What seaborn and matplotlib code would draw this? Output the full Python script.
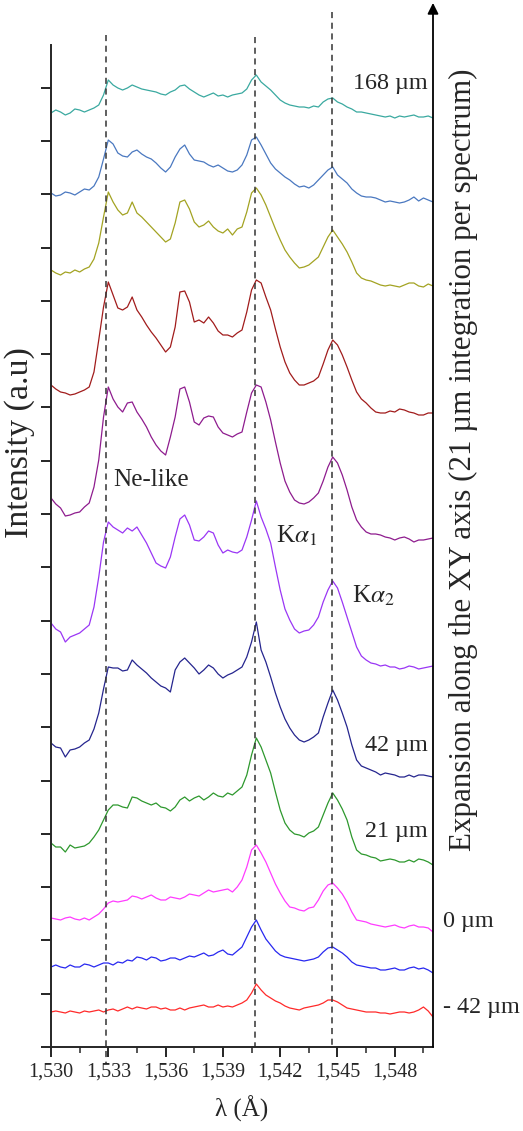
import numpy as np
import pandas as pd
import matplotlib
matplotlib.use("Agg")
import matplotlib.pyplot as plt
import seaborn as sns

# ---------------- data ----------------
wavelength = np.linspace(1.530, 1.550, 81)   # Å, sampling grid

s_168 = [934, 937, 935, 932, 934, 938, 937, 935, 937, 939, 942, 952, 967, 962, 959, 957, 959, 962, 960, 958,
         957, 956, 955, 953, 952, 955, 957, 961, 962, 958, 955, 952, 950, 952, 954, 951, 952, 950, 952, 953,
         954, 958, 967, 972, 965, 961, 957, 952, 947, 944, 942, 941, 940, 940, 939, 941, 940, 945, 948, 949,
         945, 943, 940, 938, 935, 935, 934, 933, 932, 931, 930, 931, 929, 931, 930, 931, 932, 930, 930, 931, 929]
s_147 = [854, 851, 852, 855, 854, 852, 855, 858, 857, 861, 870, 888, 907, 903, 894, 891, 890, 895, 897, 893,
         890, 888, 884, 879, 875, 880, 890, 898, 902, 893, 887, 886, 885, 882, 880, 882, 879, 876, 875, 877,
         882, 892, 907, 910, 902, 893, 884, 878, 874, 870, 867, 863, 860, 861, 859, 862, 867, 872, 877, 880,
         872, 868, 864, 858, 854, 851, 850, 850, 849, 847, 845, 846, 845, 844, 845, 847, 850, 846, 849, 847, 845]
s_126 = [777, 774, 772, 775, 774, 777, 775, 778, 780, 788, 804, 830, 855, 845, 837, 832, 834, 845, 834, 830,
         825, 820, 815, 810, 805, 808, 824, 845, 847, 838, 825, 820, 822, 826, 820, 816, 814, 818, 812, 818,
         820, 835, 854, 859, 852, 842, 830, 818, 807, 797, 790, 784, 779, 780, 782, 786, 790, 800, 810, 817,
         810, 803, 795, 785, 774, 769, 767, 766, 764, 762, 761, 762, 761, 760, 762, 764, 764, 761, 760, 763, 761]
s_105 = [662, 658, 655, 654, 652, 653, 655, 657, 660, 675, 707, 740, 765, 752, 739, 737, 740, 750, 737, 730,
         722, 715, 709, 702, 695, 700, 720, 755, 756, 745, 725, 727, 724, 730, 724, 716, 712, 712, 710, 714,
         717, 735, 757, 767, 764, 750, 737, 718, 700, 685, 674, 667, 662, 662, 664, 666, 670, 683, 697, 707,
         702, 692, 680, 667, 655, 648, 644, 639, 635, 634, 634, 636, 635, 638, 637, 635, 634, 632, 632, 634, 634]
s_84 = [549, 543, 539, 531, 532, 534, 535, 540, 544, 560, 587, 630, 660, 648, 640, 635, 644, 645, 635, 628,
        620, 610, 602, 596, 592, 610, 630, 658, 660, 645, 625, 622, 629, 631, 630, 620, 614, 612, 610, 613,
        615, 635, 654, 662, 660, 645, 627, 605, 584, 566, 555, 547, 544, 543, 545, 549, 554, 566, 580, 590,
        584, 572, 557, 540, 527, 520, 515, 513, 513, 512, 510, 509, 507, 509, 510, 508, 505, 507, 507, 508, 509]
s_63 = [424, 418, 415, 405, 410, 412, 414, 418, 422, 440, 470, 505, 525, 520, 517, 514, 519, 516, 520, 512,
        504, 494, 484, 481, 479, 490, 510, 528, 532, 522, 507, 506, 510, 516, 514, 502, 494, 497, 495, 494,
        497, 510, 527, 546, 530, 518, 504, 480, 457, 438, 427, 418, 414, 416, 417, 422, 430, 445, 457, 466,
        459, 445, 430, 415, 400, 391, 387, 384, 383, 381, 382, 380, 380, 378, 379, 381, 380, 378, 379, 380, 381]
s_42 = [304, 300, 299, 290, 297, 298, 300, 304, 307, 318, 334, 358, 380, 379, 379, 376, 377, 387, 382, 378,
        374, 369, 365, 361, 359, 355, 377, 385, 389, 384, 379, 373, 377, 382, 379, 373, 369, 372, 374, 377,
        380, 390, 405, 425, 397, 385, 370, 354, 340, 328, 319, 312, 307, 305, 307, 310, 314, 330, 344, 357,
        347, 334, 320, 302, 287, 281, 279, 277, 275, 272, 274, 273, 272, 270, 270, 272, 270, 272, 272, 271, 270]
s_21 = [204, 200, 200, 195, 202, 199, 200, 201, 204, 210, 217, 227, 237, 242, 242, 240, 239, 250, 249, 246,
        244, 242, 244, 240, 239, 236, 240, 247, 250, 246, 249, 251, 247, 250, 254, 251, 250, 254, 252, 256,
        260, 272, 292, 309, 300, 287, 274, 255, 237, 224, 217, 213, 212, 210, 214, 216, 220, 232, 244, 254,
        247, 238, 227, 210, 197, 193, 192, 190, 189, 186, 187, 188, 187, 185, 185, 187, 185, 188, 187, 185, 182]
s_0 = [129, 128, 127, 129, 130, 128, 127, 129, 127, 130, 133, 138, 144, 146, 145, 146, 147, 151, 150, 148,
       150, 152, 149, 147, 147, 150, 149, 148, 150, 153, 152, 151, 154, 157, 155, 156, 157, 158, 155, 160,
       167, 180, 197, 202, 194, 185, 174, 163, 154, 146, 140, 139, 137, 136, 139, 140, 147, 156, 162, 164,
       159, 153, 145, 135, 127, 126, 125, 123, 122, 121, 120, 121, 122, 120, 119, 121, 122, 120, 120, 119, 115]
s_m21 = [80, 82, 80, 79, 82, 80, 80, 83, 82, 80, 82, 84, 84, 82, 85, 84, 87, 86, 90, 89,
         87, 90, 89, 86, 87, 89, 89, 87, 89, 91, 90, 92, 94, 91, 92, 95, 97, 93, 92, 96,
         100, 110, 120, 127, 117, 108, 102, 96, 92, 90, 89, 88, 87, 86, 87, 88, 90, 95, 99, 100,
         97, 94, 90, 85, 82, 81, 80, 79, 79, 77, 77, 78, 79, 77, 77, 79, 80, 78, 79, 77, 74]
s_m42 = [35, 36, 35, 34, 36, 35, 34, 36, 35, 36, 37, 35, 37, 38, 36, 38, 40, 38, 40, 39,
         38, 40, 40, 38, 39, 37, 37, 39, 37, 39, 40, 41, 42, 40, 40, 42, 40, 41, 40, 42,
         44, 47, 54, 63, 57, 52, 49, 46, 44, 41, 39, 38, 37, 39, 40, 41, 42, 44, 47, 47,
         45, 42, 39, 38, 37, 36, 35, 35, 35, 34, 34, 33, 34, 35, 35, 34, 35, 37, 40, 36, 30]

positions = ["168", "147", "126", "105", "84", "63", "42", "21", "0", "-21", "-42"]
series = [s_168, s_147, s_126, s_105, s_84, s_63, s_42, s_21, s_0, s_m21, s_m42]
colors = ["#3aa9a0", "#4a78c0", "#a3a322", "#a11c1c", "#8e1c8e", "#9a36f5",
          "#25258e", "#2d982d", "#ff3cff", "#2828f0", "#ff2a2a"]

line_positions = [1.5329, 1.5407, 1.5447]          # Ne-like, Kα1, Kα2
x_ticks = [1.530, 1.533, 1.536, 1.539, 1.542, 1.545, 1.548]
x_tick_labels = ["1,530", "1,533", "1,536", "1,539", "1,542", "1,545", "1,548"]
y_tick_step = 53.3

# ---------------- style ----------------
sns.set_style("ticks")
plt.rcParams['font.family'] = ['Liberation Serif', 'DejaVu Serif']
plt.rcParams['mathtext.fontset'] = 'stix'

df = pd.concat([pd.DataFrame({"wl": wavelength, "I": s, "pos": p})
                for s, p in zip(series, positions)], ignore_index=True)

fig = plt.figure(figsize=(5.23, 11.31), dpi=100)
ax = fig.add_axes([51/523, 84/1131, 382/523, 1002/1131])

sns.lineplot(data=df, x="wl", y="I", hue="pos", hue_order=positions,
             palette=colors, estimator=None, sort=False, linewidth=0.9,
             legend=False, ax=ax)

ax.set_xlim(1.530, 1.550)
ax.set_ylim(0, 1002)

# dashed reference lines
ax.plot([line_positions[0]] * 2, [1012, -16], ls=(0, (4, 3)), color="#333333", lw=1.1, clip_on=False)
ax.plot([line_positions[1]] * 2, [1010, 0], ls=(0, (4, 3)), color="#333333", lw=1.1, clip_on=False)
ax.plot([line_positions[2]] * 2, [1035, 0], ls=(0, (4, 3)), color="#333333", lw=1.1, clip_on=False)

# axes styling
for s in ["top", "right"]:
    ax.spines[s].set_visible(False)
for s in ["left", "bottom"]:
    ax.spines[s].set_linewidth(1.4)
ax.set_xticks(x_ticks)
ax.set_xticklabels(x_tick_labels, fontsize=14.5)
ax.set_xticks([1.5315, 1.5345, 1.5375, 1.5405, 1.5435, 1.5465, 1.5495], minor=True)
ax.set_yticks(np.arange(19) * y_tick_step)
ax.set_yticklabels([])
ax.tick_params(axis="both", which="major", direction="out", length=7, width=1.2, color="black")
ax.tick_params(axis="x", which="minor", direction="out", length=4, width=1.1)
ax.tick_params(axis="x", which="major", pad=4)
ax.set_xlabel("λ (Å)", fontsize=18, labelpad=10)
ax.set_ylabel("")

# right arrow axis
ax.annotate("", xy=(1, 1.042), xytext=(1, 0), xycoords="axes fraction",
            arrowprops=dict(arrowstyle="-|>", lw=1.3, color="black", mutation_scale=16,
                            shrinkA=0, shrinkB=0))

fig.text(20/523, 1 - 443/1131, "Intensity (a.u)", rotation=90, ha="center", va="center", fontsize=24.5)
fig.text(463/523, 1 - 460/1131, "Expansion along the XY axis (21 µm integration per spectrum)",
         rotation=90, ha="center", va="center", fontsize=22.3)

# annotations
fs = 17.4
ax.text(1.5497, 964, "168 µm", ha="right", va="center", fontsize=fs)
ax.text(1.53325, 567, "Ne-like", ha="left", va="center", fontsize=fs + 0.8)
ax.text(1.5418, 504, r"K$\alpha_1$", ha="left", va="baseline", fontsize=fs + 0.8)
ax.text(1.54576, 444, r"K$\alpha_2$", ha="left", va="baseline", fontsize=fs + 0.8)
ax.text(1.5497, 301, "42 µm", ha="right", va="center", fontsize=fs)
ax.text(1.5497, 215, "21 µm", ha="right", va="center", fontsize=fs)
ax.text(1.55052, 125, "0 µm", ha="left", va="center", fontsize=fs)
ax.text(1.55052, 39, "- 42 µm", ha="left", va="center", fontsize=fs)

fig.savefig("out.png", dpi=100)
